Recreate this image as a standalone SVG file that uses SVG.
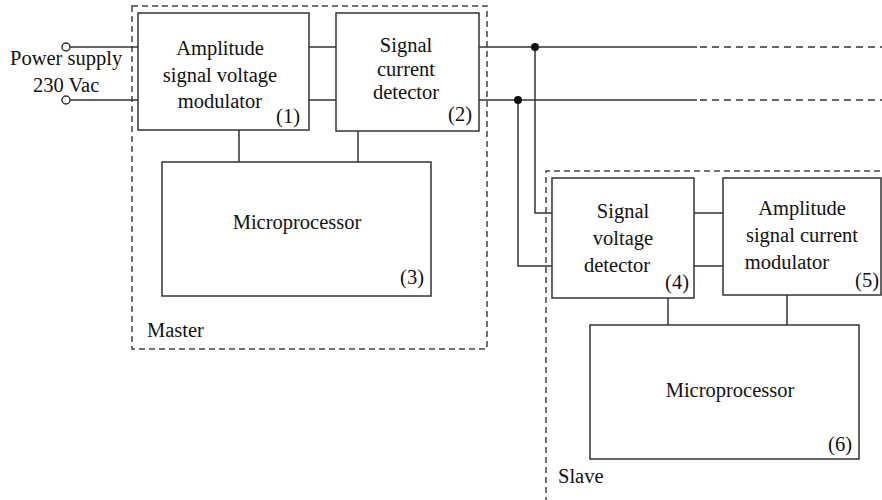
<svg xmlns="http://www.w3.org/2000/svg" width="882" height="500" viewBox="0 0 882 500">
<style>
.box{fill:#fff;stroke:#333;stroke-width:1.5}
.grp{fill:none;stroke:#444;stroke-width:1.5;stroke-dasharray:6 4}
.w{fill:none;stroke:#333;stroke-width:1.5}
.wd{fill:none;stroke:#333;stroke-width:1.5;stroke-dasharray:7 5}
.dot{fill:#111}
.term{fill:#fff;stroke:#333;stroke-width:1.5}
text{font-family:"Liberation Serif","Times New Roman",serif;font-size:20.5px;fill:#111}
.c{text-anchor:middle}
.r{text-anchor:end}
</style>
<rect width="882" height="500" fill="#fff"/>
<g id="master">
<rect class="grp" x="132" y="6" width="355" height="343"/>
<text x="147" y="337">Master</text>
</g>
<g id="slave">
<path class="grp" d="M890 171 H546 V500"/>
<text x="558" y="483">Slave</text>
</g>
<g id="connectors">
<path class="w" d="M70 47 H138 M70 100 H138"/>
<path class="w" d="M309 47 H336 M309 100 H336"/>
<path class="w" d="M479 47 H697 M479 100 H697"/>
<path class="wd" d="M700 47 H882 M700 100 H882"/>
<path class="w" d="M535 47 V213 H552 M518 100 V266 H552"/>
<path class="w" d="M694 213 H723 M694 266 H723"/>
<path class="w" d="M239 130 V162 M358 131 V162"/>
<path class="w" d="M668 298 V325 M787 295 V325"/>
<circle class="dot" cx="535" cy="47" r="4"/>
<circle class="dot" cx="518" cy="100" r="4"/>
</g>
<g id="power">
<circle class="term" cx="66" cy="47" r="4"/>
<circle class="term" cx="66" cy="100" r="4"/>
<text x="10" y="65">Power supply</text>
<text x="33" y="92">230 Vac</text>
</g>
<g id="n1">
<rect class="box" x="138" y="13" width="171" height="117"/>
<text class="c" x="220" y="55">Amplitude</text>
<text class="c" x="220" y="82">signal voltage</text>
<text class="c" x="220" y="108">modulator</text>
<text class="r" x="300" y="123">(1)</text>
</g>
<g id="n2">
<rect class="box" x="336" y="13" width="143" height="118"/>
<text class="c" x="406" y="52">Signal</text>
<text class="c" x="406" y="76">current</text>
<text class="c" x="406" y="99">detector</text>
<text class="r" x="472" y="121">(2)</text>
</g>
<g id="n3">
<rect class="box" x="162" y="162" width="269" height="134"/>
<text class="c" x="297" y="229">Microprocessor</text>
<text class="r" x="424" y="284">(3)</text>
</g>
<g id="n4">
<rect class="box" x="552" y="178" width="142" height="120"/>
<text class="c" x="623" y="218">Signal</text>
<text class="c" x="623" y="245">voltage</text>
<text class="c" x="617" y="272">detector</text>
<text class="r" x="689" y="289">(4)</text>
</g>
<g id="n5">
<rect class="box" x="723" y="178" width="158" height="117"/>
<text class="c" x="802" y="215">Amplitude</text>
<text class="c" x="802" y="242">signal current</text>
<text class="c" x="787" y="269">modulator</text>
<text class="r" x="879" y="287">(5)</text>
</g>
<g id="n6">
<rect class="box" x="590" y="325" width="269" height="134"/>
<text class="c" x="730" y="397">Microprocessor</text>
<text class="r" x="852" y="451">(6)</text>
</g>
</svg>
